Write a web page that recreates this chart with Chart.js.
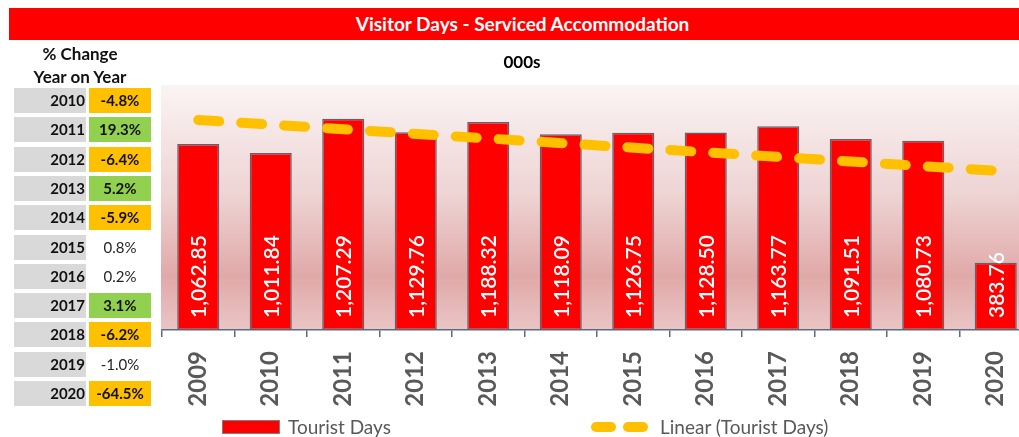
<!DOCTYPE html>
<html>
<head>
<meta charset="utf-8">
<title>Visitor Days - Serviced Accommodation</title>
<script src="https://cdn.jsdelivr.net/npm/chart.js@4.4.1/dist/chart.umd.min.js"></script>
<style>
  html, body { margin: 0; padding: 0; background: #fff; overflow: hidden; }
  body { width: 1019px; height: 437px; position: relative; font-family: Lato, "Open Sans", sans-serif; }
  #titleBar {
    position: absolute; left: 9px; top: 8px; width: 1027px; height: 32px;
    background: #ff0000; color: #fff; font-weight: bold; font-size: 19px;
    line-height: 32px; text-align: center;
  }
  #unit { position: absolute; left: 472px; top: 51px; width: 100px; text-align: center; font-weight: bold; font-size: 17px; color: #000; }
  #tableHead { position: absolute; left: 10px; top: 42px; width: 140px; text-align: center; font-weight: bold; font-size: 17px; line-height: 23px; color: #111; }
  .yr, .pc { position: absolute; height: 25px; line-height: 25px; font-size: 15px; }
  .yr { left: 14px; width: 72px; background: #d9d9d9; text-align: right; font-weight: bold; color: #111; box-sizing: border-box; padding-right: 1px; }
  .pc { left: 89px; width: 62px; text-align: center; color: #262626; }
  .pc.pos { background: #92d050; font-weight: bold; color: #111; }
  .pc.neg { background: #ffc000; font-weight: bold; color: #111; }
  #chartWrap { position: absolute; left: 0; top: 0; width: 1040px; height: 437px; }
  .legend { position: absolute; top: 416px; height: 22px; line-height: 22px; font-size: 19px; color: #595959; z-index: 2; }
  .swatchBar { position: absolute; left: 222px; top: 420px; width: 56px; height: 12px; background: #ff0000; border: 1px solid #7f7f7f; z-index: 2; }
  .swatchDash { position: absolute; top: 422px; width: 25px; height: 10px; border-radius: 5px; background: #ffc000; z-index: 2; }
</style>
</head>
<body>
<div id="chartWrap"><canvas id="chart" width="1040" height="437"></canvas></div>
<div id="titleBar">Visitor Days - Serviced Accommodation</div>
<div id="unit">000s</div>
<div id="tableHead">% Change<br>Year on Year</div>
<div id="changeTable"></div>
<div class="swatchBar"></div>
<div class="legend" style="left:288px">Tourist Days</div>
<div class="swatchDash" style="left:591px"></div>
<div class="swatchDash" style="left:623px"></div>
<div class="legend" style="left:660px">Linear (Tourist Days)</div>

<script>
// chart data
const years = ['2009', '2010', '2011', '2012', '2013', '2014', '2015', '2016', '2017', '2018', '2019', '2020'];
const touristDays = [1062.85, 1011.84, 1207.29, 1129.76, 1188.32, 1118.09, 1126.75, 1128.50, 1163.77, 1091.51, 1080.73, 383.76];
// linear trendline, end points
const trendValues = [1200, null, null, null, null, null, null, null, null, null, null, 910];

// % change table
const changeYears = ['2010', '2011', '2012', '2013', '2014', '2015', '2016', '2017', '2018', '2019', '2020'];
const changeValues = [-4.8, 19.3, -6.4, 5.2, -5.9, 0.8, 0.2, 3.1, -6.2, -1.0, -64.5];

// build the table on the left
const table = document.getElementById('changeTable');
changeYears.forEach((y, i) => {
    const top = 88 + i * 29.3;
    const v = changeValues[i];
    const cls = v >= 2 ? 'pos' : (v <= -2 ? 'neg' : '');
    table.insertAdjacentHTML('beforeend',
        '<div class="yr" style="top:' + top + 'px">' + y + '</div>' +
        '<div class="pc ' + cls + '" style="top:' + top + 'px">' + v.toFixed(1) + '%</div>');
});

// pink gradient behind the plot
const plotBackground = {
    id: 'plotBackground',
    beforeDraw(chart) {
        const { ctx, chartArea } = chart;
        const g = ctx.createLinearGradient(0, chartArea.top, 0, chartArea.bottom);
        g.addColorStop(0, '#fbf4f4');
        g.addColorStop(0.45, '#eed3d3');
        g.addColorStop(0.78, '#e0a9a8');
        g.addColorStop(1, '#eac5c5');
        ctx.save();
        ctx.fillStyle = g;
        ctx.fillRect(chartArea.left - 1, chartArea.top, chartArea.right - chartArea.left + 1, chartArea.bottom - chartArea.top);
        ctx.restore();
    }
};

// white vertical value labels near the bar base
const barLabels = {
    id: 'barLabels',
    afterDatasetsDraw(chart) {
        const ctx = chart.ctx;
        const meta = chart.getDatasetMeta(0);
        ctx.save();
        ctx.fillStyle = '#ffffff';
        ctx.font = '600 21px Lato';
        ctx.textAlign = 'left';
        ctx.textBaseline = 'middle';
        meta.data.forEach((bar, i) => {
            const txt = touristDays[i].toLocaleString('en-US', { minimumFractionDigits: 2, maximumFractionDigits: 2 });
            ctx.save();
            ctx.translate(bar.x + 1, bar.base - 12);
            ctx.rotate(-Math.PI / 2);
            ctx.fillText(txt, 0, 0);
            ctx.restore();
        });
        ctx.restore();
    }
};

const chart = new Chart(document.getElementById('chart'), {
    type: 'bar',
    data: {
        labels: years,
        datasets: [
            {
                label: 'Tourist Days',
                data: touristDays,
                backgroundColor: '#ff0000',
                borderColor: '#5d6470',
                borderWidth: 1.5,
                borderSkipped: false,
                barPercentage: 0.58,
                categoryPercentage: 1,
                order: 1
            },
            {
                type: 'line',
                label: 'Linear (Tourist Days)',
                data: trendValues,
                spanGaps: true,
                borderColor: '#ffc000',
                borderWidth: 10,
                borderDash: [21, 22],
                borderCapStyle: 'round',
                pointRadius: 0,
                fill: false,
                order: 0
            }
        ]
    },
    options: {
        responsive: false,
        animation: false,
        layout: { padding: { left: 162, top: 85, right: 8, bottom: 0 } },
        plugins: {
            legend: { display: false },
            tooltip: { enabled: false },
            title: { display: false }
        },
        scales: {
            x: {
                afterFit(scale) { scale.height = 107; },
                grid: { offset: true, drawOnChartArea: false, drawTicks: true, tickLength: 7, color: '#5b6b80', lineWidth: 1.5 },
                border: { display: true, color: '#5b6b80', width: 1.5 },
                ticks: {
                    minRotation: 90,
                    maxRotation: 90,
                    padding: 14,
                    color: '#595959',
                    font: { family: 'Lato', size: 24, weight: 'bold' }
                }
            },
            y: {
                display: false,
                min: 0,
                max: 1400
            }
        }
    },
    plugins: [plotBackground, barLabels]
});
</script>
</body>
</html>
